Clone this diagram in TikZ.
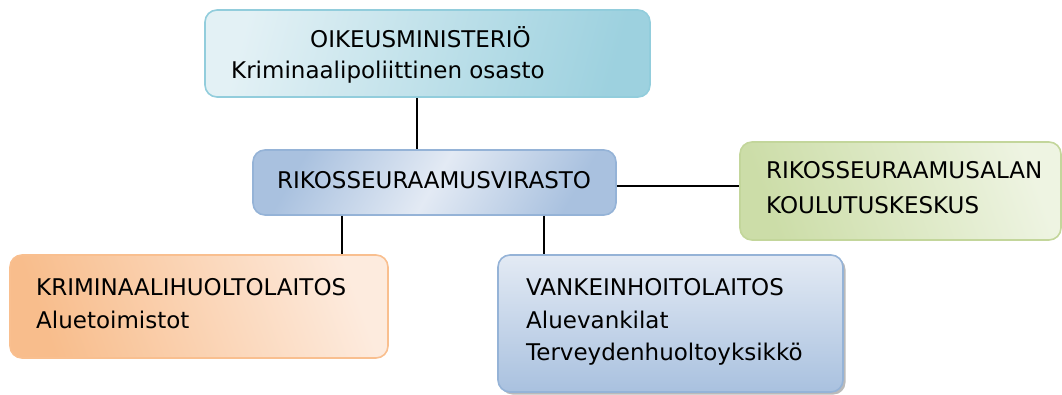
\documentclass[tikz,border=0pt]{standalone}
\usepackage{fontspec}
\setmainfont{DejaVu Sans}
\usetikzlibrary{shadows}
\definecolor{tealB}{HTML}{92CDDC}
\definecolor{tealD}{HTML}{9DD1DF}
\definecolor{tealL}{HTML}{E3F1F5}
\definecolor{blueB}{HTML}{95B3D7}
\definecolor{blueD}{HTML}{A9C1DF}
\definecolor{blueL}{HTML}{E3EAF4}
\definecolor{greenB}{HTML}{C3D69B}
\definecolor{greenD}{HTML}{CCDDA8}
\definecolor{greenL}{HTML}{EEF4E2}
\definecolor{orangeB}{HTML}{F9BF8F}
\definecolor{orangeD}{HTML}{F8BD8C}
\definecolor{orangeL}{HTML}{FDEBDE}
\tikzset{
  box/.style={rectangle, rounded corners=12pt, line width=1.6pt, inner sep=0pt},
  txt/.style={anchor=base west, inner sep=0pt, font=\fontsize{23}{28}\selectfont, text=black},
  link/.style={line width=1.4pt, black}
}
\begin{document}
\begin{tikzpicture}[x=1pt,y=-1pt]
\useasboundingbox (0,0) rectangle (1062,394);
% boxes
\node[box, draw=tealB, minimum width=445pt, minimum height=87pt,
  left color=tealL, right color=tealD, shading angle=75] (om) at (427.5,53.5) {};
\node[box, draw=blueB, minimum width=363pt, minimum height=65pt,
  left color=blueD, right color=blueD, middle color=blueL, shading angle=60] (rsv) at (434.5,182.5) {};
\node[box, draw=greenB, minimum width=321pt, minimum height=98pt,
  left color=greenD, right color=greenL, shading angle=110] (kk) at (900.5,191) {};
\node[box, draw=orangeB, minimum width=378pt, minimum height=103pt,
  left color=orangeD, right color=orangeL, shading angle=110] (krim) at (199,306.5) {};
\node[box, draw=blueB, minimum width=345pt, minimum height=137pt,
  top color=blueL, bottom color=blueD, drop shadow={shadow xshift=2.5pt, shadow yshift=-2.5pt, fill=black!45, opacity=0.6}] (vank) at (670.5,323.5) {};
% texts
\node[txt] (t1a) at (310,47) {OIKEUSMINISTERIÖ};
\node[txt] (t1b) at (231,78) {Kriminaalipoliittinen osasto};
\node[txt] (t2) at (277,188) {RIKOSSEURAAMUSVIRASTO};
\node[txt] (t3a) at (766,178) {RIKOSSEURAAMUSALAN};
\node[txt] (t3b) at (766,213) {KOULUTUSKESKUS};
\node[txt] (t4a) at (36,295) {KRIMINAALIHUOLTOLAITOS};
\node[txt] (t4b) at (36,328) {Aluetoimistot};
\node[txt] (t5a) at (526,295) {VANKEINHOITOLAITOS};
\node[txt] (t5b) at (526,328) {Aluevankilat};
\node[txt] (t5c) at (526,360) {Terveydenhuoltoyksikkö};
% connectors
\coordinate (c1) at (417,0);
\coordinate (c2) at (342,0);
\coordinate (c3) at (544,0);
\draw[link] (om.south -| c1) -- (rsv.north -| c1);
\draw[link] ([yshift=-3.5pt]rsv.east) -- ([yshift=-3.5pt]rsv.east -| kk.west);
\draw[link] (rsv.south -| c2) -- (krim.north -| c2);
\draw[link] (rsv.south -| c3) -- (vank.north -| c3);
\end{tikzpicture}
\end{document}
